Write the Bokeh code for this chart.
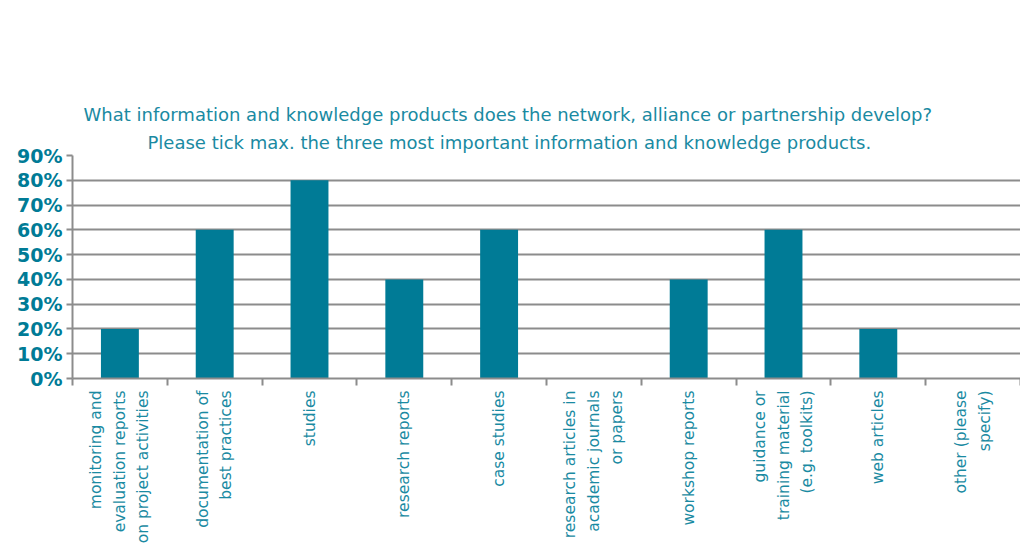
import math
from bokeh.plotting import figure
from bokeh.models import (Range1d, LinearAxis, FixedTicker, NumeralTickFormatter, ColumnDataSource, Title)
from bokeh.embed import file_html
from bokeh.resources import INLINE

categories = [
    "monitoring and\nevaluation reports\non project activities",
    "documentation of\nbest practices",
    "studies",
    "research reports",
    "case studies",
    "research articles in\nacademic journals\nor papers",
    "workshop reports",
    "guidance or\ntraining material\n(e.g. toolkits)",
    "web articles",
    "other (please\nspecify)",
]
shares = [0.20, 0.60, 0.80, 0.40, 0.60, 0.00, 0.40, 0.60, 0.20, 0.00]
y_ticks = [0.0, 0.1, 0.2, 0.3, 0.4, 0.5, 0.6, 0.7, 0.8, 0.9]
title_line1 = "What information and knowledge products does the network, alliance or partnership develop?"
title_line2 = "Please tick max. the three most important information and knowledge products."

BAR = "#007B96"
TEXT = "#1A8AA2"
GRID = "#8C8C8C"
FONT = "DejaVu Sans"

n = len(categories)
centers = [i + 0.5 for i in range(n)]
bounds = list(range(n + 1))
src = ColumnDataSource(dict(x=centers, val=shares))

p = figure(x_range=Range1d(0, n), y_range=Range1d(0, 0.9),
           width=1020, height=547, output_backend="svg", toolbar_location=None,
           x_axis_location=None, min_border_left=72, min_border_right=0,
           min_border_top=155, min_border_bottom=169, outline_line_color=None)

p.vbar(x="x", top="val", width=0.4, source=src, color=BAR, line_color=None)

# two-line title (p.title outermost, second line below it)
t2 = Title(text=title_line2, standoff=6, offset=75)
p.add_layout(t2, "above")
p.title.text = title_line1
p.title.standoff = 4
p.title.offset = 11
for t in (p.title, t2):
    t.align = "left"
    t.text_font = FONT
    t.text_font_size = "18px"
    t.text_font_style = "normal"
    t.text_color = TEXT

# empty spacer between the title and the plot frame (added last: nearest the frame)
spacer = LinearAxis(ticker=FixedTicker(ticks=[]), axis_line_color=None,
                    major_tick_in=0, major_tick_out=90, minor_tick_in=0, minor_tick_out=0,
                    major_tick_line_color="white", minor_tick_line_color=None,
                    major_label_standoff=0)
p.add_layout(spacer, "above")

# y axis
p.yaxis.ticker = FixedTicker(ticks=y_ticks)
p.yaxis.formatter = NumeralTickFormatter(format="0%")
p.yaxis.major_label_text_font = FONT
p.yaxis.major_label_text_font_style = "bold"
p.yaxis.major_label_text_font_size = "19px"
p.yaxis.major_label_text_color = BAR
p.yaxis.axis_line_color = GRID
p.yaxis.axis_line_width = 2
p.yaxis.major_tick_line_color = GRID
p.yaxis.major_tick_line_width = 2
p.yaxis.major_tick_in = 0
p.yaxis.major_tick_out = 6
p.yaxis.minor_tick_line_color = None
p.yaxis.major_label_standoff = 4

p.ygrid.ticker = FixedTicker(ticks=y_ticks)
p.ygrid.grid_line_color = GRID
p.ygrid.grid_line_width = 2
p.xgrid.grid_line_color = None

# x axis: labels at category centres, tick marks at category boundaries
x_axis = LinearAxis(ticker=FixedTicker(ticks=centers, minor_ticks=bounds),
                    major_label_overrides={c: lab for c, lab in zip(centers, categories)},
                    axis_line_color=GRID, axis_line_width=2,
                    major_tick_line_color=None, major_tick_in=0, major_tick_out=7,
                    minor_tick_line_color=GRID, minor_tick_line_width=2,
                    minor_tick_in=0, minor_tick_out=7,
                    major_label_orientation=math.pi / 2,
                    major_label_text_font=FONT, major_label_text_font_size="15.5px",
                    major_label_text_line_height=1.3,
                    major_label_text_color=TEXT, major_label_standoff=5)
p.add_layout(x_axis, "below")

open("out.html", "w").write(file_html(p, INLINE))
